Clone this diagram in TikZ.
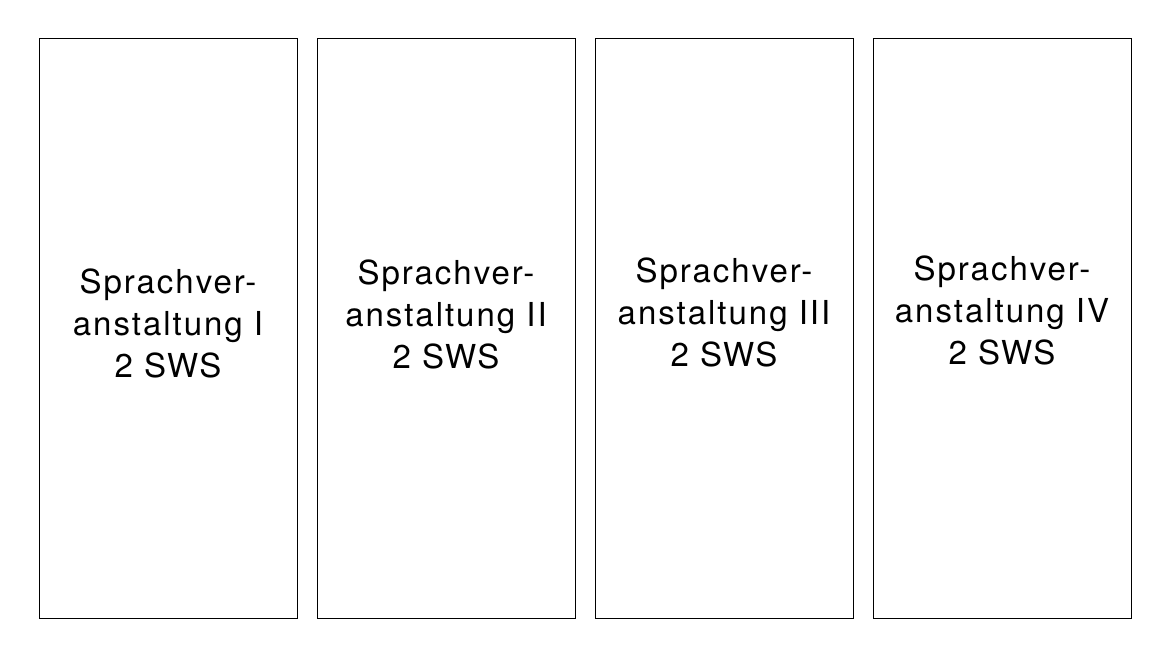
\documentclass[tikz,border=0pt]{standalone}
\usepackage{fontspec}
\setmainfont{TeX Gyre Heros}[LetterSpace=6]
\begin{document}
\begin{tikzpicture}[x=1pt,y=-1pt,
  colbox/.style={draw=black, line width=1pt, minimum width=258pt, minimum height=579pt, inner sep=0pt},
  coltext/.style={align=center, anchor=base, inner sep=0pt, font=\fontsize{33}{42}\selectfont}]
\useasboundingbox (0,0) rectangle (1170,658);
\node[colbox] (b1) at (168,328.5) {};
\node[colbox] (b2) at (446,328.5) {};
\node[colbox] (b3) at (724,328.5) {};
\node[colbox] (b4) at (1002,328.5) {};
\node[coltext] (t1) at (168,377) {Sprachver-\\anstaltung I\\2 SWS};
\node[coltext] (t2) at (446,368) {Sprachver-\\anstaltung II\\2 SWS};
\node[coltext] (t3) at (724,366) {Sprachver-\\anstaltung III\\2 SWS};
\node[coltext] (t4) at (1002,364) {Sprachver-\\anstaltung IV\\2 SWS};
\end{tikzpicture}
\end{document}
